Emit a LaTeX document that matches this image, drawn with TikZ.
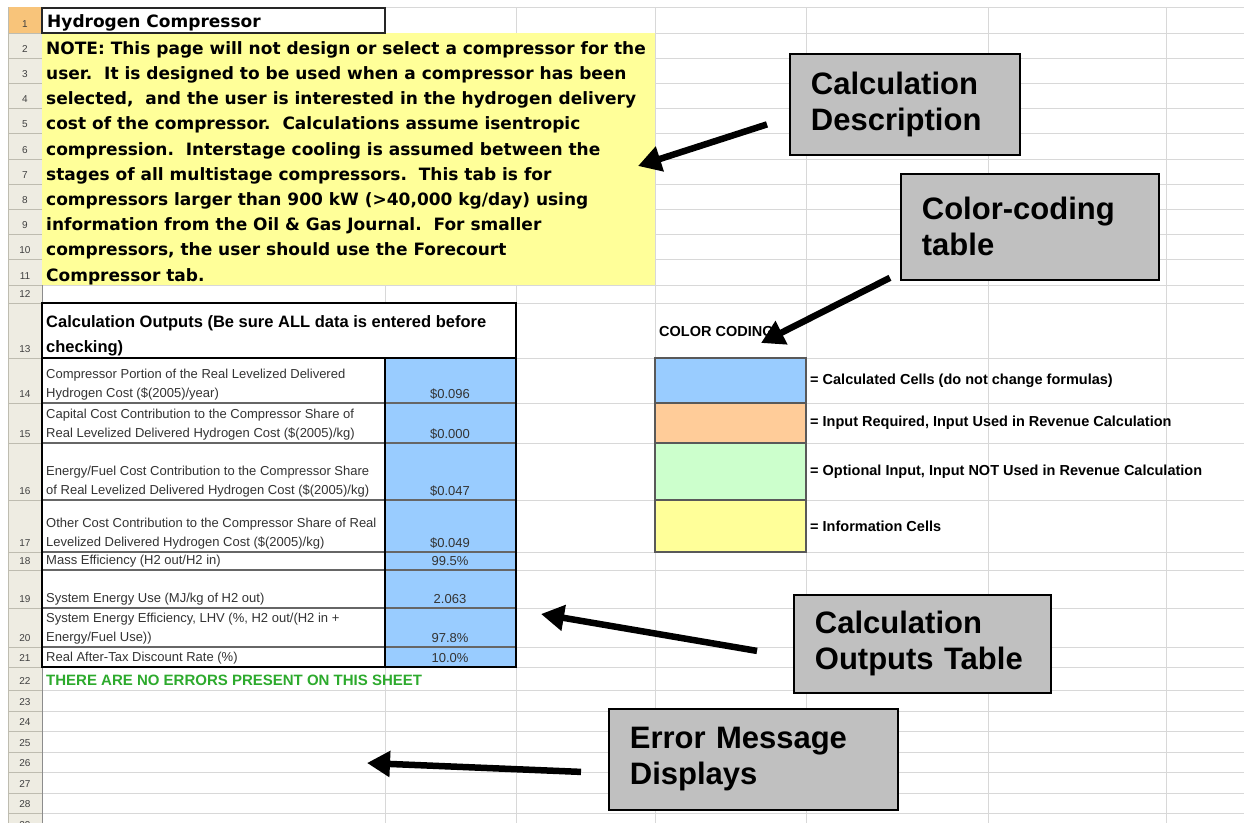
\documentclass[tikz,border=0pt]{standalone}
\usepackage{fontspec}
\setmainfont{Liberation Sans}
\newfontfamily\notefont{DejaVu Sans}
\usetikzlibrary{positioning,calc,arrows.meta}
\definecolor{gridgray}{RGB}{216,216,216}
\definecolor{headfill}{RGB}{238,236,226}
\definecolor{headline}{RGB}{190,188,176}
\definecolor{selorange}{RGB}{248,196,122}
\definecolor{noteyellow}{RGB}{255,255,153}
\definecolor{calcblue}{RGB}{153,204,255}
\definecolor{inorange}{RGB}{255,204,153}
\definecolor{optgreen}{RGB}{204,255,204}
\definecolor{okgreen}{RGB}{45,170,45}
\definecolor{boxgray}{RGB}{192,192,192}
\tikzstyle{rownum} = [anchor=base, inner sep=0pt, text=black!75, font=\fontsize{10}{11}\selectfont]
\tikzstyle{note} = [anchor=base west, inner sep=0pt, font=\notefont\bfseries\fontsize{17}{20}\selectfont]
\tikzstyle{cell} = [anchor=south west, inner sep=0pt, align=left, text=black!80, font=\fontsize{13}{19}\selectfont]
\tikzstyle{value} = [anchor=base, inner sep=0pt, text=black!80, font=\fontsize{13}{15}\selectfont]
\tikzstyle{legend} = [anchor=west, inner sep=0pt, font=\bfseries\fontsize{14.5}{16}\selectfont]
\tikzstyle{swatch} = [draw=black!65, line width=1.2pt]
\tikzstyle{callout} = [draw=black, line width=1.8pt, fill=boxgray, anchor=north west, align=left, inner xsep=21pt, font=\bfseries\fontsize{31}{36}\selectfont]
\tikzstyle{callarrow} = [line width=6.5pt, -{Triangle[length=23pt,width=25pt]}]
\def\rowbottoms{1/33,2/58.2,3/83.4,4/108.6,5/133.8,6/159,7/184.2,8/209.4,9/234.6,10/259.8,11/285,12/303,13/358,14/403,15/443,16/500,17/552,18/570,19/608,20/647,21/667,22/690,23/711,24/731,25/752,26/772,27/793,28/813,29/834}

\begin{document}
\begin{tikzpicture}[x=1pt,y=-1pt]
    \useasboundingbox (0,0) rectangle (1244,822);
    \clip (0,0) rectangle (1244,822);
    \fill[white] (0,0) rectangle (1244,822);
    % sheet grid
    \fill[headfill] (8,7) rectangle (42,834);
    \fill[selorange] (8,7) rectangle (42,33);
    \draw[gridgray, line width=1pt] (42,7) -- (1244,7);
    \foreach \r/\b in \rowbottoms {
        \draw[gridgray, line width=1pt] (42,\b) -- (1244,\b);
        \draw[headline, line width=1pt] (8,\b) -- (42,\b);
        \node[rownum] (row\r) at (25,\b-6) {\r};
    }
    \foreach \x in {385,516,655,806,988,1166}
        \draw[gridgray, line width=1pt] (\x,7) -- (\x,834);
    \draw[headline, line width=1pt] (8,7) -- (8,834);
    \draw[black!45, line width=1pt] (42,7) -- (42,834);

    % title and note
    \fill[noteyellow] (42,33) rectangle (655,285);
    \draw[black!85, line width=2.5pt, fill=white] (42,8) rectangle (385,33);
    \node[note] (title) at (47,27) {Hydrogen Compressor};
    \foreach \txt [count=\i] in {{NOTE: This page will not design or select a compressor for the},
        {user.\ \ It is designed to be used when a compressor has been},
        {selected,\ \ and the user is interested in the hydrogen delivery},
        {cost of the compressor.\ \ Calculations assume isentropic},
        {compression.\ \ Interstage cooling is assumed between the},
        {stages of all multistage compressors.\ \ This tab is for},
        {compressors larger than 900 kW (>40,000 kg/day) using},
        {information from the Oil \& Gas Journal.\ \ For smaller},
        {compressors, the user should use the Forecourt},
        {Compressor tab.}}
        \node[note] (note\i) at (46,{58.2+25.2*(\i-1)-4}) {\txt};

    % calculation outputs table
    \fill[white] (42,303) rectangle (516,667);
    \fill[calcblue] (385,358) rectangle (516,667);
    \foreach \b in {403,443,500,552,570,608,647}
        \draw[black!60, line width=1.5pt] (42,\b) -- (516,\b);
    \draw[black, line width=1.2pt] (385,358) -- (385,667);
    \draw[black, line width=2.5pt] (42,303) rectangle (516,358);
    \draw[black, line width=2.8pt] (42,303) rectangle (516,667);
    \node[anchor=base west, inner sep=0pt, font=\bfseries\fontsize{16.5}{20}\selectfont] (outhead1) at (46,327) {Calculation Outputs (Be sure ALL data is entered before};
    \node[anchor=base west, inner sep=0pt, font=\bfseries\fontsize{16.5}{20}\selectfont] (outhead2) at (46,352) {checking)};
    \foreach \r/\b/\lab/\val in {14/403/{Compressor Portion of the Real Levelized Delivered\\Hydrogen Cost (\$(2005)/year)}/{\$0.096},
        15/443/{Capital Cost Contribution to the Compressor Share of\\Real Levelized Delivered Hydrogen Cost (\$(2005)/kg)}/{\$0.000},
        16/500/{Energy/Fuel Cost Contribution to the Compressor Share\\of Real Levelized Delivered Hydrogen Cost (\$(2005)/kg)}/{\$0.047},
        17/552/{Other Cost Contribution to the Compressor Share of Real\\Levelized Delivered Hydrogen Cost (\$(2005)/kg)}/{\$0.049},
        18/570/{Mass Efficiency (H2 out/H2 in)}/{99.5\%},
        19/608/{System Energy Use (MJ/kg of H2 out)}/{2.063},
        20/647/{System Energy Efficiency, LHV (\%, H2 out/(H2 in +\\Energy/Fuel Use))}/{97.8\%},
        21/667/{Real After-Tax Discount Rate (\%)}/{10.0\%}} {
        \node[cell] (lab\r) at (46,\b-2.5) {\lab};
        \node[value] (val\r) at (450,\b-5) {\val};
    }
    \node[anchor=base west, inner sep=0pt, text=okgreen, font=\bfseries\fontsize{15}{17}\selectfont] (noerr) at (46,685) {THERE ARE NO ERRORS PRESENT ON THIS SHEET};

    % color coding
    \node[legend] (codetitle) at (659,332) {COLOR CODING};
    \foreach \r/\t/\b/\c/\txt in {14/358/403/calcblue/{= Calculated Cells (do not change formulas)},
        15/403/443/inorange/{= Input Required, Input Used in Revenue Calculation},
        16/443/500/optgreen/{= Optional Input, Input NOT Used in Revenue Calculation},
        17/500/552/noteyellow/{= Information Cells}} {
        \draw[swatch, fill=\c] (655,\t) rectangle (806,\b);
        \node[legend] (leg\r) at (810,{(\t+\b)/2}) {\txt};
    }

    % callouts
    \node[callout, text width=188pt, minimum height=101pt] (descbox) at (789,53) {Calculation\\Description};
    \node[callout, text width=216pt, minimum height=106pt] (codebox) at (900,173) {Color-coding\\table};
    \node[callout, text width=215pt, minimum height=98pt] (outbox) at (793,594) {Calculation\\Outputs Table};
    \node[callout, text width=247pt, minimum height=101pt] (errbox) at (608,708) {Error Message\\Displays};
    \coordinate (descTail) at ($(descbox.west)+(-22,20)$);
    \coordinate (descTip) at (638,166);
    \coordinate (codeTail) at ($(codebox.south west)+(-10,-3)$);
    \coordinate (codeTip) at (761,343);
    \coordinate (outTail) at ($(outbox.west)+(-36,7)$);
    \coordinate (outTip) at (541,614);
    \coordinate (errTail) at ($(errbox.west)+(-27,12.5)$);
    \coordinate (errTip) at (367,763);
    \draw[callarrow] (descTail) -- (descTip);
    \draw[callarrow] (codeTail) -- (codeTip);
    \draw[callarrow] (outTail) -- (outTip);
    \draw[callarrow] (errTail) -- (errTip);
\end{tikzpicture}
\end{document}
